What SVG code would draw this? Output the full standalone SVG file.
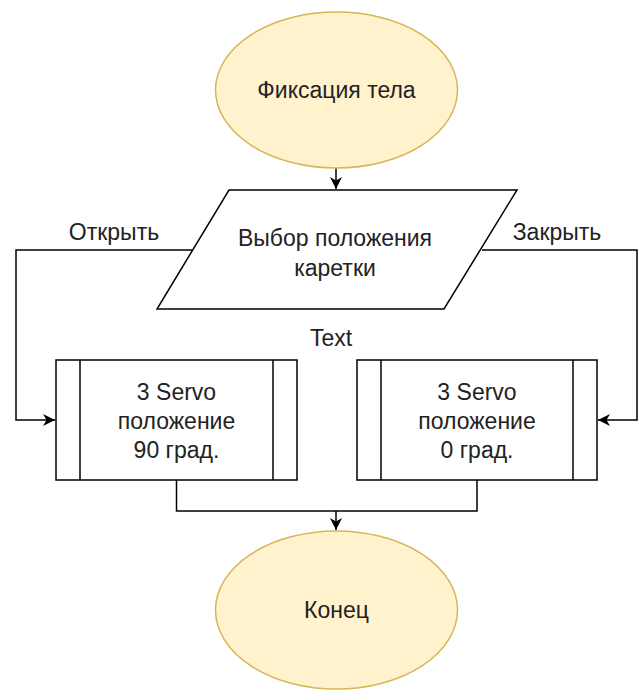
<svg xmlns="http://www.w3.org/2000/svg" width="643" height="691" viewBox="0 0 643 691">
<style>
.t{font-family:"Liberation Sans",Arial,sans-serif;font-size:23px;fill:#222;text-anchor:middle}
.term{fill:#fff2cc;stroke:#d6b656;stroke-width:1.5}
.box{fill:#fff;stroke:#000;stroke-width:1.5}
.c{fill:none;stroke:#000;stroke-width:1.5}
</style>
<defs>
<marker id="arr" markerUnits="userSpaceOnUse" markerWidth="14" markerHeight="12" refX="12" refY="6" orient="auto">
<path d="M0,0 L12,6 L0,12 L3.5,6 Z" fill="#000"/>
</marker>
</defs>
<rect width="643" height="691" fill="#fff"/>
<g id="connectors">
<path class="c" d="M336,168 V189" marker-end="url(#arr)"/>
<path class="c" d="M193,250 H16 V420 H55" marker-end="url(#arr)"/>
<path class="c" d="M482,250 H637 V420 H598" marker-end="url(#arr)"/>
<path class="c" d="M176.5,480 V511 H477 V480"/>
<path class="c" d="M336,511 V530" marker-end="url(#arr)"/>
</g>
<g id="start">
<ellipse class="term" cx="336.5" cy="90" rx="121" ry="78"/>
<text class="t" x="336.5" y="98">Фиксация тела</text>
</g>
<g id="input">
<polygon class="box" points="229,190 517,190 444,309 157,309"/>
<text class="t" x="335" y="246">Выбор положения</text>
<text class="t" x="335" y="276">каретки</text>
</g>
<g id="label-open"><text class="t" x="114" y="240">Открыть</text></g>
<g id="label-close"><text class="t" x="557" y="240">Закрыть</text></g>
<g id="label-text"><text class="t" x="331" y="346">Text</text></g>
<g id="proc-left">
<rect class="box" x="56" y="360" width="241" height="120"/>
<line class="c" x1="80" y1="360" x2="80" y2="480"/>
<line class="c" x1="273" y1="360" x2="273" y2="480"/>
<text class="t" x="176.5" y="400">3 Servo</text>
<text class="t" x="176.5" y="429">положение</text>
<text class="t" x="176.5" y="458">90 град.</text>
</g>
<g id="proc-right">
<rect class="box" x="357" y="360" width="240" height="120"/>
<line class="c" x1="381" y1="360" x2="381" y2="480"/>
<line class="c" x1="573" y1="360" x2="573" y2="480"/>
<text class="t" x="477" y="400">3 Servo</text>
<text class="t" x="477" y="429">положение</text>
<text class="t" x="477" y="458">0 град.</text>
</g>
<g id="end">
<ellipse class="term" cx="336.5" cy="610" rx="121" ry="79"/>
<text class="t" x="336.5" y="618">Конец</text>
</g>
</svg>
